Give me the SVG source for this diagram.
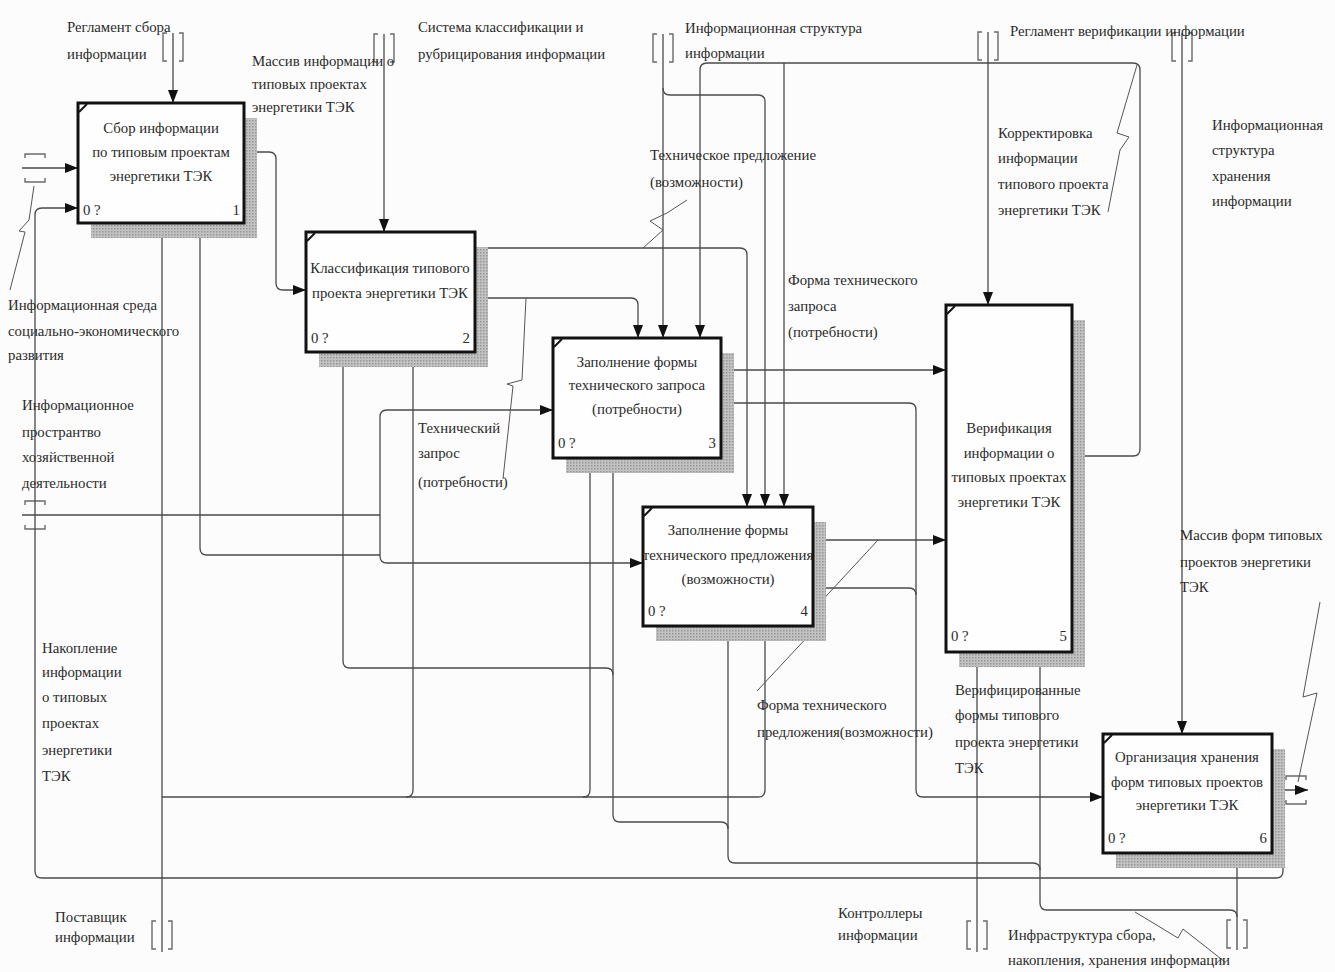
<svg xmlns="http://www.w3.org/2000/svg" width="1335" height="972" viewBox="0 0 1335 972">
<defs>
<style>
.bg{fill:#fbfcfb}
.box{fill:#fdfefd;stroke:#111;stroke-width:3}
.sh{fill:url(#hatch)}
.corner{fill:none;stroke:#111;stroke-width:2}
.t{font-family:"Liberation Serif","Times New Roman",serif;font-size:14.8px;fill:#2b2b2b}
.c{text-anchor:middle}
.e{text-anchor:end}
.ln{fill:none;stroke:#4a4a4a;stroke-width:1.3}
.arr{marker-end:url(#ah)}
.zz{fill:none;stroke:#555;stroke-width:1}
.tun{fill:none;stroke:#6a6a6a;stroke-width:1.4}
</style>
<pattern id="hatch" width="3" height="3" patternUnits="userSpaceOnUse">
<rect width="3" height="3" fill="#c2c2c2"/>
<rect width="1.5" height="1.5" fill="#969696"/>
</pattern>
<marker id="ah" markerWidth="14" markerHeight="10" refX="13" refY="5" orient="auto" markerUnits="userSpaceOnUse">
<path d="M0,0 L13,5 L0,10 z" fill="#111"/>
</marker>
<path id="tunV" d="M-6,-14 H-10 V14 H-6 M6,-14 H10 V14 H6"/>
<path id="tunH" d="M-10,-10 V-14 H10 V-10 M-10,10 V14 H10 V10"/>
</defs>

<rect class="bg" x="0" y="0" width="1335" height="972"/>

<!-- tunnel brackets on boundary arrows -->
<g id="tunnels" class="tun">
<use href="#tunV" x="173" y="47"/>
<use href="#tunV" x="384" y="48"/>
<use href="#tunV" x="663" y="48"/>
<use href="#tunV" x="988" y="46"/>
<use href="#tunV" x="1182" y="47"/>
<use href="#tunV" x="162" y="935"/>
<use href="#tunV" x="977" y="935"/>
<use href="#tunV" x="1237" y="934"/>
<use href="#tunH" x="35" y="168"/>
<use href="#tunH" x="35" y="515"/>
<use href="#tunH" x="1296" y="790"/>
</g>

<!-- connectors -->
<g id="connectors">
<!-- controls entering from the top -->
<path class="ln arr" d="M173,33 V103"/>
<path class="ln arr" d="M384,34 V232"/>
<path class="ln arr" d="M663,34 V338"/>
<path class="ln arr" d="M663,88 Q663,95 670,95 H758 Q765,95 765,102 V507"/>
<path class="ln arr" d="M1072,456 H1133 Q1140,456 1140,449 V70 Q1140,63 1133,63 H707 Q700,63 700,70 V338"/>
<path class="ln arr" d="M784,63 V507"/>
<path class="ln arr" d="M988,32 V305"/>
<path class="ln arr" d="M1182,33 V734"/>

<!-- box 1 output -->
<path class="ln arr" d="M244,152 H269 Q276,152 276,159 V283 Q276,290 283,290 H306"/>
<!-- box 2 outputs -->
<path class="ln arr" d="M475,248 H740 Q747,248 747,255 V507"/>
<path class="ln arr" d="M475,298 H631 Q638,298 638,305 V338"/>
<!-- box 3 outputs -->
<path class="ln arr" d="M721,370 H946"/>
<path class="ln arr" d="M721,403 H909 Q916,403 916,410 V790 Q916,797 923,797 H1103"/>
<!-- box 4 outputs -->
<path class="ln arr" d="M813,540 H946"/>
<path class="ln" d="M813,588 H909 Q916,588 916,595"/>
<!-- box 6 outputs -->
<path class="ln arr" d="M1272,790 H1308"/>
<path class="ln arr" d="M1272,840 H1276 Q1283,840 1283,847 V871 Q1283,878 1276,878 H42 Q35,878 35,871 V215 Q35,208 42,208 H78"/>

<!-- inputs from the left -->
<path class="ln arr" d="M22,168 H78"/>
<path class="ln" d="M22,515 H380"/>
<path class="ln arr" d="M380,515 V417 Q380,410 387,410 H553"/>
<path class="ln arr" d="M380,515 V556 Q380,563 387,563 H643"/>
<path class="ln arr" d="M380,555 H207 Q200,555 200,548 V223"/>

<!-- mechanisms from below -->
<path class="ln arr" d="M162,952 V223"/>
<path class="ln arr" d="M162,797 H406 Q413,797 413,790 V352"/>
<path class="ln arr" d="M406,797 H583 Q590,797 590,790 V458"/>
<path class="ln arr" d="M583,797 H758 Q765,797 765,790 V626"/>
<path class="ln arr" d="M977,952 V652"/>
<path class="ln arr" d="M1237,950 V853"/>
<path class="ln arr" d="M1237,917 Q1237,910 1230,910 H1047 Q1040,910 1040,903 V652"/>
<path class="ln arr" d="M1040,870 Q1040,863 1033,863 H735 Q728,863 728,856 V626"/>
<path class="ln arr" d="M728,829 Q728,822 721,822 H620 Q613,822 613,815 V458"/>
<path class="ln arr" d="M613,675 Q613,668 606,668 H350 Q343,668 343,661 V352"/>

<!-- label leaders -->
<polyline class="zz" points="10,290 25,232 19,231 29,220 34,186"/>
<polyline class="zz" points="687,200 667,213 650,221 663,230 643,248"/>
<polyline class="zz" points="503,479 513,386 507,384 522,380 526,298"/>
<polyline class="zz" points="1137,65 1117,133 1129,137 1120,150 1108,212"/>
<polyline class="zz" points="878,540 817,606 826,617 757,691"/>
<polyline class="zz" points="1320,602 1303,697 1317,693 1298,782"/>
<polyline class="zz" points="1135,912 1178,938 1183,929 1225,962"/>
</g>

<!-- activity boxes -->
<g id="node1">
<rect class="sh" x="91" y="118" width="166" height="120"/>
<rect class="box" x="78" y="103" width="166" height="120"/>
<path class="corner" d="M79,112 L87,104"/>
<text class="t c" x="161" y="133">Сбор информации</text>
<text class="t c" x="161" y="157">по типовым проектам</text>
<text class="t c" x="161" y="181">энергетики ТЭК</text>
<text class="t" x="83" y="215">0 ?</text>
<text class="t e" x="240" y="215">1</text>
</g>

<g id="node2">
<rect class="sh" x="319" y="247" width="169" height="120"/>
<rect class="box" x="306" y="232" width="169" height="120"/>
<path class="corner" d="M307,241 L315,233"/>
<text class="t c" x="390" y="273">Классификация типового</text>
<text class="t c" x="390" y="298">проекта энергетики ТЭК</text>
<text class="t" x="311" y="343">0 ?</text>
<text class="t e" x="470" y="343">2</text>
</g>

<g id="node3">
<rect class="sh" x="566" y="353" width="168" height="120"/>
<rect class="box" x="553" y="338" width="168" height="120"/>
<path class="corner" d="M554,347 L562,339"/>
<text class="t c" x="637" y="367">Заполнение формы</text>
<text class="t c" x="637" y="390">технического запроса</text>
<text class="t c" x="637" y="414">(потребности)</text>
<text class="t" x="558" y="448">0 ?</text>
<text class="t e" x="716" y="448">3</text>
</g>

<g id="node4">
<rect class="sh" x="656" y="522" width="170" height="119"/>
<rect class="box" x="643" y="507" width="170" height="119"/>
<path class="corner" d="M644,516 L652,508"/>
<text class="t c" x="728" y="535">Заполнение формы</text>
<text class="t c" x="728" y="560">технического предложения</text>
<text class="t c" x="728" y="584">(возможности)</text>
<text class="t" x="648" y="616">0 ?</text>
<text class="t e" x="808" y="616">4</text>
</g>

<g id="node5">
<rect class="sh" x="959" y="320" width="126" height="347"/>
<rect class="box" x="946" y="305" width="126" height="347"/>
<path class="corner" d="M947,314 L955,306"/>
<text class="t c" x="1009" y="433">Верификация</text>
<text class="t c" x="1009" y="458">информации о</text>
<text class="t c" x="1009" y="482">типовых проектах</text>
<text class="t c" x="1009" y="507">энергетики ТЭК</text>
<text class="t" x="951" y="641">0 ?</text>
<text class="t e" x="1067" y="641">5</text>
</g>

<g id="node6">
<rect class="sh" x="1116" y="749" width="169" height="119"/>
<rect class="box" x="1103" y="734" width="169" height="119"/>
<path class="corner" d="M1104,743 L1112,735"/>
<text class="t c" x="1187" y="762">Организация хранения</text>
<text class="t c" x="1187" y="787">форм типовых проектов</text>
<text class="t c" x="1187" y="810">энергетики ТЭК</text>
<text class="t" x="1108" y="843">0 ?</text>
<text class="t e" x="1267" y="843">6</text>
</g>

<!-- arrow labels -->
<g id="labels">
<text class="t" x="67" y="32">Регламент сбора</text>
<text class="t" x="67" y="59">информации</text>
<text class="t" x="252" y="66">Массив информации о</text>
<text class="t" x="252" y="89">типовых проектах</text>
<text class="t" x="252" y="112">энергетики ТЭК</text>
<text class="t" x="418" y="32">Система классификации и</text>
<text class="t" x="418" y="59">рубрицирования информации</text>
<text class="t" x="685" y="33">Информационная структура</text>
<text class="t" x="685" y="58">информации</text>
<text class="t" x="1010" y="36">Регламент верификации информации</text>
<text class="t" x="998" y="138">Корректировка</text>
<text class="t" x="998" y="163">информации</text>
<text class="t" x="998" y="189">типового проекта</text>
<text class="t" x="998" y="215">энергетики ТЭК</text>
<text class="t" x="1212" y="130">Информационная</text>
<text class="t" x="1212" y="155">структура</text>
<text class="t" x="1212" y="181">хранения</text>
<text class="t" x="1212" y="206">информации</text>
<text class="t" x="650" y="160">Техническое предложение</text>
<text class="t" x="650" y="187">(возможности)</text>
<text class="t" x="788" y="285">Форма технического</text>
<text class="t" x="788" y="311">запроса</text>
<text class="t" x="788" y="337">(потребности)</text>
<text class="t" x="418" y="433">Технический</text>
<text class="t" x="418" y="458">запрос</text>
<text class="t" x="418" y="487">(потребности)</text>
<text class="t" x="8" y="310">Информационная среда</text>
<text class="t" x="8" y="336">социально-экономического</text>
<text class="t" x="8" y="360">развития</text>
<text class="t" x="22" y="410">Информационное</text>
<text class="t" x="22" y="437">пространтво</text>
<text class="t" x="22" y="462">хозяйственной</text>
<text class="t" x="22" y="488">деятельности</text>
<text class="t" x="42" y="653">Накопление</text>
<text class="t" x="42" y="677">информации</text>
<text class="t" x="42" y="702">о типовых</text>
<text class="t" x="42" y="728">проектах</text>
<text class="t" x="42" y="755">энергетики</text>
<text class="t" x="42" y="781">ТЭК</text>
<text class="t" x="55" y="922">Поставщик</text>
<text class="t" x="55" y="942">информации</text>
<text class="t" x="757" y="710">Форма технического</text>
<text class="t" x="757" y="737">предложения(возможности)</text>
<text class="t" x="955" y="695">Верифицированные</text>
<text class="t" x="955" y="720">формы типового</text>
<text class="t" x="955" y="747">проекта энергетики</text>
<text class="t" x="955" y="773">ТЭК</text>
<text class="t" x="838" y="918">Контроллеры</text>
<text class="t" x="838" y="940">информации</text>
<text class="t" x="1008" y="940">Инфраструктура сбора,</text>
<text class="t" x="1008" y="965">накопления, хранения информации</text>
<text class="t" x="1180" y="540">Массив форм типовых</text>
<text class="t" x="1180" y="567">проектов энергетики</text>
<text class="t" x="1180" y="592">ТЭК</text>
</g>
</svg>
